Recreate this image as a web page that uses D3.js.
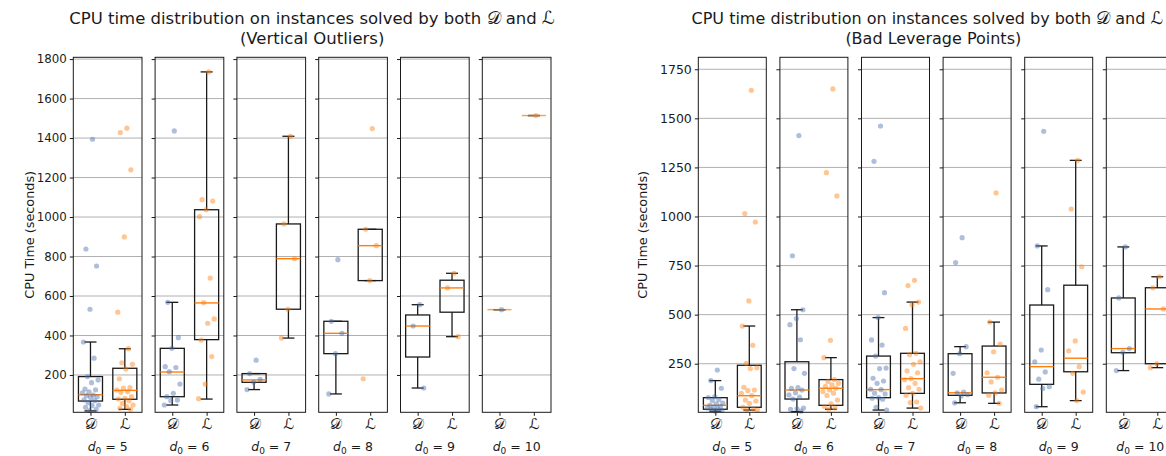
<!DOCTYPE html>
<html><head><meta charset="utf-8">
<script src="https://cdn.jsdelivr.net/npm/d3@7"></script>
<style>
body{margin:0;background:#fff;}
svg text{font-family:"DejaVu Sans",sans-serif;fill:#1a1a1a;}
</style></head><body>
<svg id="chart" width="1166" height="456"></svg>
<script>
// ---------------- data ----------------
const d0Values = [5, 6, 7, 8, 9, 10];
const groupLabels = ["\u{1D49F}", "\u2112"];
const voTicks = [200, 400, 600, 800, 1000, 1200, 1400, 1600, 1800];
const blpTicks = [250, 500, 750, 1000, 1250, 1500, 1750];

// box stats per d0: [whiskerLow, q1, median, q3, whiskerHigh]
const voBoxD = [
  [18, 68, 100, 192, 367], [48, 90, 215, 335, 568], [126, 163, 175, 207, 207],
  [104, 308, 411, 472, 472], [134, 291, 448, 504, 556], [531, 531, 531, 531, 531]
];
const voBoxL = [
  [26, 77, 122, 234, 333], [78, 379, 565, 1037, 1735], [387, 533, 789, 965, 1409],
  [678, 678, 855, 938, 938], [394, 518, 641, 680, 715], [1514, 1514, 1514, 1514, 1514]
];
const voPtsD = [
  [1394, 838, 752, 533, 367, 285, 192, 175, 161, 129, 125, 114, 110, 98, 95, 90, 86, 74, 70, 60, 48, 45, 36, 26, 20],
  [1436, 568, 389, 335, 242, 238, 217, 154, 107, 90, 73, 70, 48],
  [275, 207, 178, 163, 126],
  [784, 472, 411, 308, 104],
  [556, 448, 134],
  [531]
];
const voPtsL = [
  [1450, 1428, 1239, 899, 518, 333, 262, 254, 230, 181, 136, 133, 124, 116, 112, 90, 82, 78, 70, 56, 48, 40, 31, 26],
  [1735, 1088, 1081, 1037, 1002, 691, 566, 484, 462, 377, 293, 154, 80],
  [1409, 965, 789, 533, 387],
  [1448, 938, 855, 678, 181],
  [715, 641, 394],
  [1514]
];

const blpBoxD = [
  [8, 18, 38, 77, 164], [6, 70, 116, 260, 525], [14, 77, 118, 289, 485],
  [51, 89, 102, 301, 337], [31, 145, 235, 549, 850], [215, 306, 327, 585, 845]
];
const blpBoxL = [
  [14, 28, 87, 242, 442], [18, 38, 125, 169, 281], [24, 99, 174, 303, 564],
  [48, 101, 181, 340, 462], [62, 209, 278, 650, 1286], [230, 250, 529, 637, 693]
];
const blpPtsD = [
  [218, 164, 125, 82, 78, 67, 62, 50, 45, 38, 33, 30, 25, 20, 16, 12, 8],
  [1412, 800, 525, 480, 449, 372, 225, 201, 128, 124, 116, 102, 91, 80, 70, 24, 20, 17, 8],
  [1461, 1281, 612, 485, 371, 345, 289, 228, 225, 176, 162, 150, 120, 118, 100, 96, 77, 74, 69, 28, 14],
  [892, 765, 337, 301, 201, 106, 102, 92, 85, 51],
  [1434, 850, 627, 320, 260, 208, 171, 133, 124, 31],
  [845, 585, 327, 308, 215]
];
const blpPtsL = [
  [1643, 1015, 972, 570, 442, 344, 252, 229, 225, 130, 116, 113, 99, 87, 65, 60, 48, 28, 20, 16, 14],
  [1650, 1223, 1105, 369, 281, 169, 160, 150, 142, 135, 125, 116, 108, 100, 88, 65, 45, 32, 25, 18],
  [675, 648, 564, 551, 430, 303, 296, 260, 247, 214, 204, 174, 168, 150, 128, 120, 99, 89, 55, 52, 24],
  [1120, 462, 350, 311, 204, 181, 157, 116, 101, 89, 48],
  [1286, 1038, 744, 366, 316, 235, 201, 106, 62],
  [693, 637, 529, 250, 230]
];

const titleMain = "CPU time distribution on instances solved by both ";
const yLabel = "CPU Time (seconds)";

// ---------------- layout ----------------
const svg = d3.select("#chart");
const plotTop = 57.3, plotBottom = 412.3;
const colors = {D: "#4c72b0", L: "#ff7f0e"};

const panels = [
  {sub: "(Vertical Outliers)", boxes: [voBoxD, voBoxL], pts: [voPtsD, voPtsL], ticks: voTicks,
   yDomain: [11, 1809], left: 73.3, pitch: 81.8, width: 68.7, ylabX: 30, tickFont: 11.8,
   titleShift: 0, subShift: 0, titleFont: 16.5},
  {sub: "(Bad Leverage Points)", boxes: [blpBoxD, blpBoxL], pts: [blpPtsD, blpPtsL], ticks: blpTicks,
   yDomain: [2.5, 1811], left: 698.3, pitch: 81.6, width: 68, ylabX: 643, tickFont: 12.5,
   titleShift: -9, subShift: -3, titleFont: 16}
];

panels.forEach(p => {
  const y = d3.scaleLinear().domain(p.yDomain).range([plotBottom, plotTop]);
  const g = svg.append("g");
  const cx = p.left + (5 * p.pitch + p.width) / 2;

  // titles
  const t1 = g.append("text").attr("x", cx + p.titleShift).attr("y", 24).attr("text-anchor", "middle")
    .style("font-size", p.titleFont + "px");
  t1.append("tspan").text(titleMain);
  t1.append("tspan").text(groupLabels[0]).style("font-size", (p.titleFont + 1.5) + "px");
  t1.append("tspan").text(" and ");
  t1.append("tspan").text(groupLabels[1]).style("font-size", (p.titleFont + 1.5) + "px");
  g.append("text").attr("x", cx + p.subShift).attr("y", 44).attr("text-anchor", "middle")
    .style("font-size", p.titleFont + "px").text(p.sub);

  // y label
  g.append("text").attr("transform", `translate(${p.ylabX},${(plotTop + plotBottom) / 2}) rotate(-90)`)
    .attr("text-anchor", "middle").attr("dy", "0.35em").style("font-size", "12.8px").text(yLabel);

  d0Values.forEach((d0, i) => {
    const x0 = p.left + i * p.pitch;
    const x = d3.scaleLinear().domain([0.5, 2.5]).range([x0, x0 + p.width]);
    const sg = g.append("g");

    // grid
    sg.selectAll("line.grid").data(p.ticks).join("line")
      .attr("x1", x0).attr("x2", x0 + p.width)
      .attr("y1", d => y(d)).attr("y2", d => y(d))
      .attr("stroke", "#b0b0b0").attr("stroke-width", 1);

    // y axis ticks (labels only on first subplot)
    const yAxis = d3.axisLeft(y).tickValues(p.ticks).tickSize(3.5).tickPadding(3)
      .tickFormat(i === 0 ? d3.format("d") : () => "");
    const ya = sg.append("g").attr("transform", `translate(${x0},0)`).call(yAxis);
    ya.select(".domain").remove();
    ya.selectAll("line").attr("stroke", "#1a1a1a");
    ya.selectAll("text").style("font-size", p.tickFont + "px").attr("fill", "#1a1a1a");

    // x axis
    const xAxis = d3.axisBottom(x).tickValues([1, 2]).tickSize(3.5).tickPadding(3)
      .tickFormat(d => groupLabels[d - 1]);
    const xa = sg.append("g").attr("transform", `translate(0,${plotBottom})`).call(xAxis);
    xa.select(".domain").remove();
    xa.selectAll("line").attr("stroke", "#1a1a1a");
    xa.selectAll("text").style("font-size", "15px").attr("fill", "#1a1a1a");

    // d0 label
    const lab = sg.append("text").attr("x", (x0 + x0 + p.width) / 2).attr("y", 451)
      .attr("text-anchor", "middle").style("font-size", "12.5px");
    lab.append("tspan").text("d").style("font-style", "italic");
    lab.append("tspan").text("0").attr("dy", 3).style("font-size", "9px");
    lab.append("tspan").text(" = " + d0).attr("dy", -3);

    // boxes
    [0, 1].forEach(k => {
      const [wlo, q1, med, q3, whi] = p.boxes[k][i];
      const cxk = x(k + 1);
      const bw = x(1.35) - x(1);
      const cw = x(1.175) - x(1);
      const bg = sg.append("g").attr("stroke", "#1a1a1a").attr("stroke-width", 1.3).attr("fill", "none");
      bg.append("line").attr("x1", cxk).attr("x2", cxk).attr("y1", y(wlo)).attr("y2", y(q1));
      bg.append("line").attr("x1", cxk).attr("x2", cxk).attr("y1", y(q3)).attr("y2", y(whi));
      bg.append("line").attr("x1", cxk - cw).attr("x2", cxk + cw).attr("y1", y(wlo)).attr("y2", y(wlo));
      bg.append("line").attr("x1", cxk - cw).attr("x2", cxk + cw).attr("y1", y(whi)).attr("y2", y(whi));
      bg.append("rect").attr("x", cxk - bw).attr("width", 2 * bw)
        .attr("y", y(q3)).attr("height", Math.max(0, y(q1) - y(q3)));
      sg.append("line").attr("x1", cxk - bw).attr("x2", cxk + bw).attr("y1", y(med)).attr("y2", y(med))
        .attr("stroke", colors.L).attr("stroke-width", 1.4)
        .attr("stroke-opacity", q1 === q3 ? 0.75 : 1);

      // points (deterministic spread)
      const vals = p.pts[k][i];
      sg.selectAll(null).data(vals).join("circle")
        .attr("cx", (d, j) => x(k + 1 + (((j + 1) * 0.6180339887) % 1 - 0.5) * 0.5))
        .attr("cy", d => y(d)).attr("r", 2.6)
        .attr("fill", k === 0 ? colors.D : colors.L).attr("fill-opacity", 0.45);
    });

    // frame
    sg.append("rect").attr("x", x0).attr("y", plotTop).attr("width", p.width).attr("height", plotBottom - plotTop)
      .attr("fill", "none").attr("stroke", "#1a1a1a").attr("stroke-width", 1);
  });
});
</script>
</body></html>
